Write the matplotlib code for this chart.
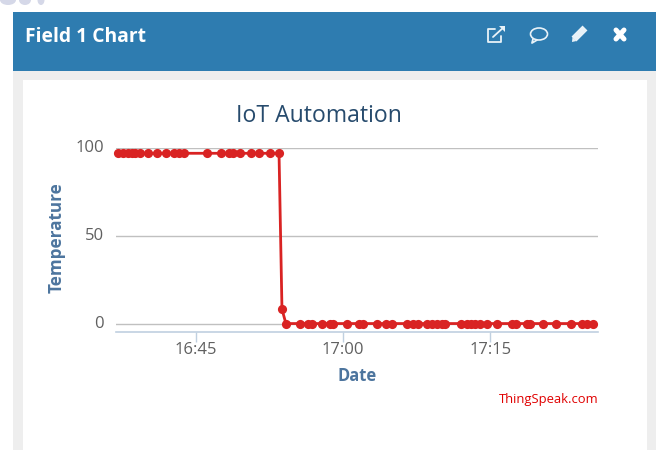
import matplotlib
matplotlib.use('Agg')
import matplotlib.pyplot as plt
from matplotlib.patches import Rectangle, Ellipse, Polygon
from matplotlib.transforms import ScaledTranslation

# minutes after 16:00
high_t = [37.1, 37.6, 38.1, 38.5, 38.8, 39.3, 40.2, 41.1, 42.0, 42.8, 43.3, 43.8,
          46.2, 47.6, 48.4, 48.8, 49.5, 50.6, 51.5, 52.6, 53.5]
high_v = [97] * 21
drop_t = [53.8]
drop_v = [8.5]
low_t = [54.2, 55.65, 56.5, 56.9, 57.9, 58.7, 59.0, 60.4, 61.6, 62.1, 63.5, 64.4,
         65.0, 66.5, 67.1, 67.7, 68.6, 69.1, 69.6, 70.1, 70.4, 72.0, 72.6, 73.0,
         73.5, 74.0, 74.7, 75.7, 77.2, 77.6, 78.8, 79.1, 80.4, 81.7, 83.2, 84.4,
         84.9, 85.5]
low_v = [0.3] * 38
times = high_t + drop_t + low_t
temps = high_v + drop_v + low_v

x_ticks = [45, 60, 75]
x_labels = ['16:45', '17:00', '17:15']
y_ticks = [0, 50, 100]

W, H = 659, 450
fig = plt.figure(figsize=(W / 100, H / 100), dpi=100, facecolor='white')

# page furniture drawn in pixel coordinates
bg = fig.add_axes([0, 0, 1, 1])
bg.set_xlim(0, W)
bg.set_ylim(H, 0)
bg.axis('off')
bg.add_patch(Rectangle((13, 71), 643, 379, fc='#eeeeee', ec='none'))
bg.add_patch(Rectangle((13, 12), 643, 59, fc='#2e7cb0', ec='none'))
bg.add_patch(Rectangle((23, 80), 624, 370, fc='white', ec='none'))
for cx, w in [(8, 16), (25, 12), (41, 7)]:
    bg.add_patch(Ellipse((cx, 0), w, 10, fc='#d5d8e8', ec='none'))
bg.text(25, 37, 'Field 1 Chart', color='white', fontsize=13.9, fontweight='bold',
        family='Open Sans', va='center', ha='left')

# header icons
icon = dict(color='#e8f2f8', lw=1.3, solid_capstyle='round')
bg.plot([495, 488, 488, 501, 501], [29, 29, 42, 42, 36], **icon)
bg.plot([493, 504], [37, 27], **icon)
bg.add_patch(Polygon([[499, 26], [505, 26], [505, 32]], fc='#e8f2f8', ec='none'))
bg.add_patch(Ellipse((539, 34), 17, 12, fc='none', ec='#e8f2f8', lw=1.2))
bg.plot([533, 532, 537], [39, 43, 40], **icon)
bg.plot([574, 585], [39, 28], color='#e8f2f8', lw=5, solid_capstyle='butt')
bg.add_patch(Polygon([[572, 42], [572.5, 37], [576.5, 41]], fc='#e8f2f8', ec='none'))
bg.plot([616, 624], [30, 39], color='white', lw=3.6, solid_capstyle='round')
bg.plot([624, 616], [30, 39], color='white', lw=3.6, solid_capstyle='round')

# chart area: x 116-598, y 148-332
ax = fig.add_axes([116 / W, 1 - 332 / H, (598 - 116) / W, (332 - 148) / H])
ax.patch.set_alpha(0)
ax.plot(times, temps, color='#d92323', linewidth=2, marker='o', markersize=6.6,
        markeredgewidth=0, clip_on=False, zorder=3)
ax.set_xlim(36.9, 85.98)
ax.set_ylim(-4.5, 100)

ax.set_yticks(y_ticks)
ax.set_yticklabels([str(v) for v in y_ticks], color='#606060', fontsize=12, family='Open Sans')
ax.set_xticks(x_ticks)
ax.set_xticklabels(x_labels, color='#606060', fontsize=12, family='Open Sans')
ax.tick_params(axis='y', length=0, pad=8.6)
ax.tick_params(axis='x', length=7, width=1, color='#c0d0e0', pad=0.5)
# y labels sit a little above their gridlines
up = ScaledTranslation(0, 2 / 100, fig.dpi_scale_trans)
for lab in ax.get_yticklabels():
    lab.set_transform(lab.get_transform() + up)
ax.grid(axis='y', color='#c0c0c0', linewidth=1)
ax.set_axisbelow(True)
for s in ['top', 'left', 'right']:
    ax.spines[s].set_visible(False)
ax.spines['bottom'].set_color('#c0d0e0')
ax.spines['bottom'].set_linewidth(1.2)

ax.set_xlabel('Date', color='#4d759e', fontsize=11.9, fontweight='bold', family='Open Sans', labelpad=6)
bg.text(57, 238, 'Temperature', color='#4d759e', fontsize=12.3, fontweight='bold',
        family='Open Sans', rotation=90, va='center', ha='center')
bg.text(318.5, 116.5, 'IoT Automation', color='#274b6d', fontsize=16.6, family='Open Sans',
        va='center', ha='center')
bg.text(599, 399, 'ThingSpeak.com', color='#e00000', fontsize=9.4, family='Open Sans',
        va='center', ha='right')

fig.savefig('out.png', dpi=100)
